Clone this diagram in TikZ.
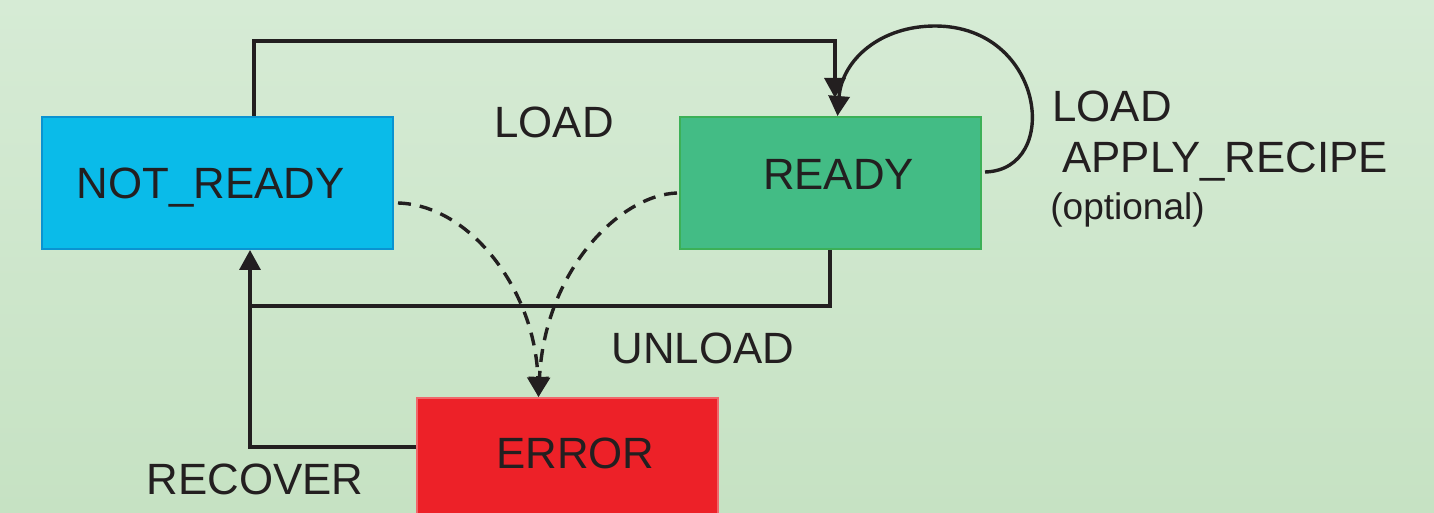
\documentclass[tikz,border=0pt]{standalone}
\usepackage{fontspec}
\setmainfont{Liberation Sans}
\usetikzlibrary{arrows.meta,calc}

\definecolor{bgtop}{HTML}{D6EBD5}
\definecolor{bgbot}{HTML}{C6E2C3}
\definecolor{ink}{HTML}{231F20}
\definecolor{nrfill}{HTML}{0ABBE9}
\definecolor{nrline}{HTML}{0A93D1}
\definecolor{rdfill}{HTML}{43BC85}
\definecolor{rdline}{HTML}{3CB057}
\definecolor{erfill}{HTML}{ED2128}
\definecolor{erline}{HTML}{F0676B}

\tikzset{
  statebox/.style={rectangle, line width=1pt, inner sep=0pt, text=ink,
    font=\fontsize{21.9pt}{26pt}\selectfont, text depth=0pt},
  lbl/.style={inner sep=0pt, text=ink, font=\fontsize{21.9pt}{26pt}\selectfont},
  smalllbl/.style={inner sep=0pt, text=ink, font=\fontsize{18.5pt}{22pt}\selectfont},
  conn/.style={draw=ink, line width=1.7pt, line join=miter,
    -{Triangle[length=10pt,width=10.5pt]}},
  plainconn/.style={draw=ink, line width=1.7pt, line join=miter},
  dashconn/.style={conn, dash pattern=on 6.5pt off 4.5pt}
}

\begin{document}
\begin{tikzpicture}[x=0.5pt, y=-0.5pt]
  % canvas and soft green background
  \useasboundingbox (0,0) rectangle (1434,513);
  \clip (0,0) rectangle (1434,513);
  \shade[top color=bgtop, bottom color=bgbot] (0,0) rectangle (1434,513);

  % states
  \node[statebox, fill=nrfill, draw=nrline, minimum width=175.5pt, minimum height=66pt]
    (nr) at (217.5,183) {NOT\_READY\hspace*{7pt}};
  \node[statebox, fill=rdfill, draw=rdline, minimum width=150.5pt, minimum height=66pt,
    text depth=8.5pt]
    (rd) at (830.5,183) {\hspace*{8pt}READY};
  \node[statebox, fill=erfill, draw=erline, minimum width=150.5pt, minimum height=70pt,
    text depth=15pt]
    (er) at (567.5,468) {\hspace*{8pt}ERROR};

  % transition labels
  \node[lbl] (lload) at (554,122.5) {LOAD};
  \node[lbl] (lunload) at (703,348) {UNLOAD};
  \node[lbl] (lrecover) at (255,479) {RECOVER};
  \node[lbl, anchor=base west] (lselfa) at (1052,122) {LOAD};
  \node[lbl, anchor=base west] (lselfb) at (1062,173) {APPLY\_RECIPE};
  \node[smalllbl, anchor=base west] (lselfc) at (1050,220) {(optional)};

  % routing points
  \coordinate (loadL) at (254,41);
  \coordinate (loadR) at (835,41);
  \coordinate (loadtip) at (835,98);
  \coordinate (unR) at (830,306);
  \coordinate (unL) at (250,306);
  \coordinate (recL) at (250,447);
  \coordinate (ertip) at ($(er.north)+(-29,0)$);

  % LOAD: NOT_READY -> READY
  \draw[conn] (loadL |- nr.north) -- (loadL) -- (loadR) -- (loadtip);

  % LOAD / APPLY_RECIPE self loop on READY
  \draw[conn] ($(rd.east)+(3,-11)$) .. controls (1062,170) and (1045,26) .. (935,26)
    .. controls (880,26) and (842,60) .. ($(rd.north)+(7,0)$);

  % UNLOAD: READY -> NOT_READY
  \draw[conn] (unR |- rd.south) -- (unR) -- (unL) -- (unL |- nr.south);

  % RECOVER: ERROR -> NOT_READY (joins the UNLOAD return line)
  \draw[plainconn] (er.west |- recL) -- (recL) -- (unL);

  % failures into ERROR
  \draw[dashconn] ($(nr.east)+(4,20)$) .. controls (470,205) and (535,290) .. (ertip);
  \draw[dashconn] ($(rd.west)+(-2,10)$) .. controls (620,195) and (545,270) .. (ertip);
\end{tikzpicture}
\end{document}
